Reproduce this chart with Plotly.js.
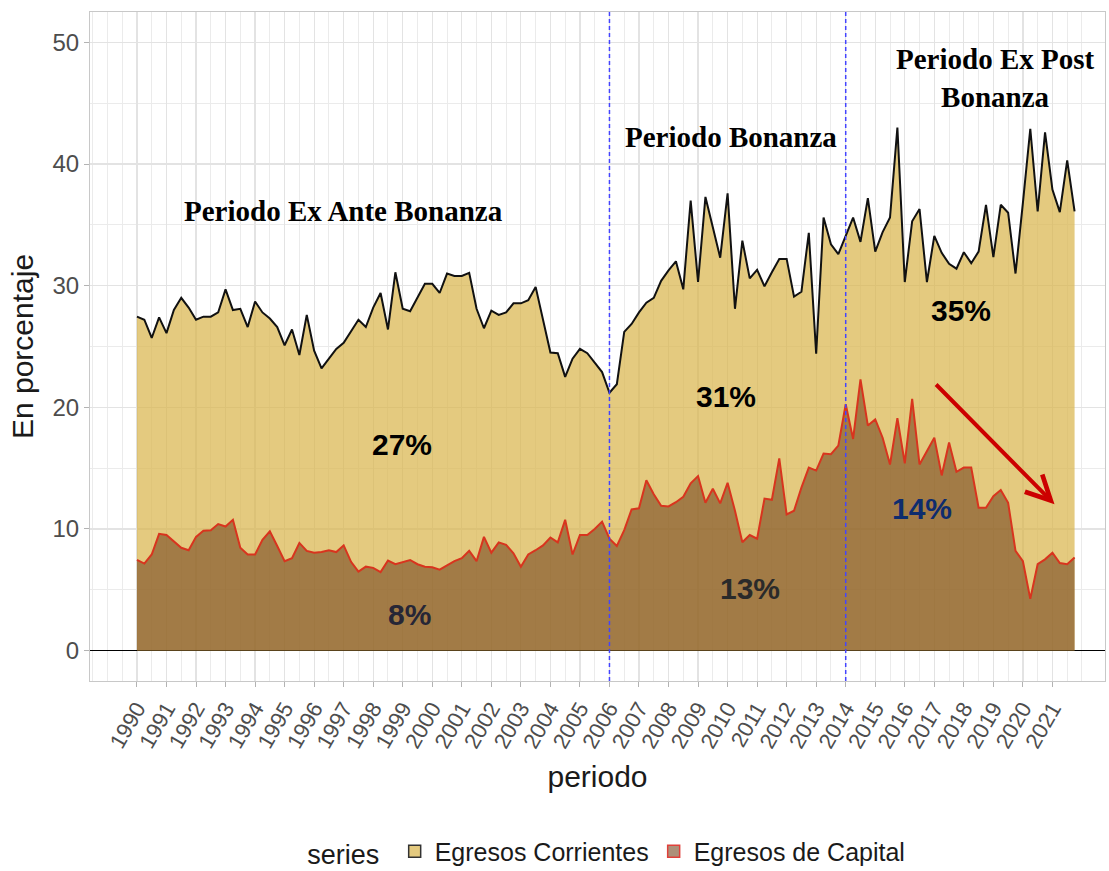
<!DOCTYPE html>
<html>
<head>
<meta charset="utf-8">
<script src="https://cdn.plot.ly/plotly-3.0.1.min.js"></script>
<style>
  html, body { margin: 0; padding: 0; background: #ffffff; overflow: hidden; }
  #chart { width: 1109px; height: 871px; }
</style>
</head>
<body>
<div id="chart"></div>
<script>
// ---- Data (quarterly, 1990Q1 - 2021Q4), in percent ----
const startYear = 1990;
const quartersPerYear = 4;

const yearTicks = [1990,1991,1992,1993,1994,1995,1996,1997,1998,1999,2000,2001,2002,2003,2004,2005,
                   2006,2007,2008,2009,2010,2011,2012,2013,2014,2015,2016,2017,2018,2019,2020,2021];

const egresosCorrientes = [
  27.45,27.2,25.7,27.4, 26.1,28.0,29.0,28.2, 27.2,27.45,27.45,27.8, 29.7,28.0,28.1,26.6,
  28.7,27.8,27.3,26.6, 25.1,26.4,24.3,27.6, 24.65,23.2,24.0,24.8, 25.3,26.2,27.2,26.6,
  28.2,29.4,26.4,31.1, 28.1,27.9,29.05,30.15, 30.15,29.4,31.0,30.8, 30.8,31.05,28.1,26.5,
  27.95,27.6,27.8,28.55, 28.55,28.8,29.9,27.3, 24.5,24.45,22.5,24.0, 24.8,24.45,23.7,22.9,
  21.2,21.9,26.2,26.85, 27.8,28.6,29.0,30.4, 31.25,32.0,29.7,37.0, 30.3,37.3,34.8,32.3,
  37.6,28.1,33.7,30.6, 31.3,29.95,31.1,32.2, 32.2,29.1,29.5,34.35, 24.4,35.6,33.4,32.6,
  34.1,35.6,33.6,37.2, 32.8,34.4,35.6,43.0, 30.3,35.3,36.3,30.3, 34.1,32.7,31.8,31.4,
  32.75,31.85,32.8,36.65, 32.35,36.65,36.0,31.0, 36.8,42.9,36.1,42.6, 37.9,36.05,40.3,36.1
];

const egresosCapital = [
  7.45,7.15,7.9,9.6, 9.5,9.0,8.45,8.25, 9.35,9.85,9.9,10.4, 10.2,10.75,8.45,7.9,
  7.9,9.1,9.8,8.6, 7.35,7.6,8.85,8.2, 8.05,8.1,8.25,8.1, 8.65,7.3,6.5,6.9,
  6.8,6.45,7.4,7.1, 7.3,7.45,7.1,6.9, 6.85,6.65,7.0,7.35, 7.6,8.2,7.35,9.35,
  8.05,8.9,8.7,8.0, 6.9,7.9,8.25,8.65, 9.3,8.9,10.75,7.9, 9.5,9.5,10.0,10.6,
  9.2,8.6,9.9,11.6, 11.7,14.0,12.85,11.9, 11.85,12.2,12.65,13.75, 14.35,12.15,13.3,12.1,
  13.8,11.5,8.9,9.5, 9.2,12.5,12.4,15.8, 11.2,11.5,13.4,15.05, 14.8,16.2,16.15,16.85,
  20.25,17.4,22.3,18.5, 19.0,17.5,15.3,19.1, 15.4,20.7,15.3,16.4, 17.5,14.4,17.1,14.7,
  15.05,15.05,11.75,11.75, 12.7,13.2,12.15,8.2, 7.35,4.25,7.1,7.5, 8.05,7.2,7.1,7.65
];

const seriesNames = ["Egresos Corrientes", "Egresos de Capital"];
const periodBreaks = [2006, 2014];
const periodLabels = ["Periodo Ex Ante Bonanza", "Periodo Bonanza", "Periodo Ex Post<br>Bonanza"];
const avgLabels = ["27%", "8%", "31%", "13%", "35%", "14%"];

// time index
const periodo = egresosCorrientes.map((_, i) => startYear + i / quartersPerYear);

const sans = "Liberation Sans, Arimo, Arial, sans-serif";
const serif = "Liberation Serif, Tinos, Times New Roman, serif";

const fillCorr = "rgba(218,182,78,0.72)";
const fillCap = "rgba(118,70,32,0.6)";
const lineCorr = "#111111";
const lineCap = "#D8341E";

const traces = [
  {
    x: periodo, y: egresosCorrientes, name: seriesNames[0], showlegend: false,
    type: "scatter", mode: "lines", fill: "tozeroy",
    fillcolor: fillCorr, line: { color: lineCorr, width: 2 }
  },
  {
    x: periodo, y: egresosCapital, name: seriesNames[1], showlegend: false,
    type: "scatter", mode: "lines", fill: "tozeroy",
    fillcolor: fillCap, line: { color: lineCap, width: 2 }
  },
  // legend keys (boxes as in the original)
  { x: [null], y: [null], type: "bar", name: seriesNames[0],
    marker: { color: fillCorr, line: { color: "#333333", width: 1.5 } } },
  { x: [null], y: [null], type: "bar", name: seriesNames[1],
    marker: { color: fillCap, line: { color: "#E0403A", width: 1.5 } } }
];

// minor vertical gridlines every half-year
const minorX = [];
for (let v = 1988.5; v <= 2022.01; v += 0.5) minorX.push(v);

const shapes = periodBreaks.map(b => ({
  type: "line", xref: "x", yref: "paper", x0: b, x1: b, y0: 0, y1: 1,
  line: { color: "#4444FF", width: 1.5, dash: "4px,3px" }
}));

const annotations = [
  { x: 1997.0, y: 36.1, text: "<b>" + periodLabels[0] + "</b>", font: { family: serif, size: 29, color: "#000" } },
  { x: 2010.1, y: 42.25, text: "<b>" + periodLabels[1] + "</b>", font: { family: serif, size: 29, color: "#000" } },
  { x: 2019.05, y: 47.1, text: "<b>" + periodLabels[2] + "</b>", font: { family: serif, size: 29, color: "#000" } },
  { x: 1998.96, y: 16.97, text: "<b>" + avgLabels[0] + "</b>", font: { family: sans, size: 30, color: "#000" } },
  { x: 1999.23, y: 2.97, text: "<b>" + avgLabels[1] + "</b>", font: { family: sans, size: 30, color: "#262636" } },
  { x: 2009.95, y: 20.9, text: "<b>" + avgLabels[2] + "</b>", font: { family: sans, size: 30, color: "#000" } },
  { x: 2010.76, y: 5.1, text: "<b>" + avgLabels[3] + "</b>", font: { family: sans, size: 30, color: "#2a2a2a" } },
  { x: 2017.92, y: 28.0, text: "<b>" + avgLabels[4] + "</b>", font: { family: sans, size: 30, color: "#000" } },
  { x: 2016.6, y: 11.7, text: "<b>" + avgLabels[5] + "</b>", font: { family: sans, size: 30, color: "#0E2C6E" } },
  { x: 2021.07, y: 12.03, ax: 2017.01, ay: 22.0, axref: "x", ayref: "y", text: "",
    showarrow: true, arrowcolor: "#CC0000", arrowwidth: 4, arrowhead: 5, arrowsize: 1.2 }
].map(a => Object.assign({ xref: "x", yref: "y", showarrow: false }, a));

const layout = {
  width: 1109, height: 871,
  margin: { l: 90, r: 4, t: 12, b: 190, autoexpand: false },
  paper_bgcolor: "#ffffff", plot_bgcolor: "#ffffff",
  font: { family: sans, color: "#4D4D4D" },
  showlegend: true,
  barmode: "overlay",
  legend: {
    orientation: "h", x: 0.51, xanchor: "center", y: -0.255, yanchor: "middle",
    title: { text: "series ", font: { size: 27, color: "#1a1a1a" } },
    font: { size: 25, color: "#1a1a1a" }, traceorder: "normal",
    itemwidth: 30
  },
  xaxis: {
    range: [1988.41, 2022.78], automargin: false,
    tickmode: "array", tickvals: yearTicks, ticktext: yearTicks.map(String),
    tickangle: -60, tickfont: { size: 22, color: "#4D4D4D" },
    ticks: "outside", ticklen: 5, tickcolor: "#B3B3B3", tickwidth: 1,
    showgrid: true, gridcolor: "#E3E3E3", gridwidth: 1.2,
    minor: { tickmode: "array", tickvals: minorX, showgrid: true, gridcolor: "#EBEBEB", gridwidth: 1, ticks: "" },
    showline: true, linecolor: "#C8C8C8", linewidth: 1, mirror: true,
    zeroline: false,
    title: { text: "periodo", font: { size: 30, color: "#1a1a1a" }, standoff: 14 }
  },
  yaxis: {
    range: [-2.5, 52.5], automargin: false,
    tickmode: "linear", tick0: 0, dtick: 10,
    tickfont: { size: 24, color: "#4D4D4D" },
    ticks: "outside", ticklen: 5, tickcolor: "#B3B3B3", tickwidth: 1,
    showgrid: true, gridcolor: "#E3E3E3", gridwidth: 1.2,
    minor: { dtick: 5, showgrid: true, gridcolor: "#EBEBEB", gridwidth: 1, ticks: "" },
    showline: true, linecolor: "#C8C8C8", linewidth: 1, mirror: true,
    zeroline: true, zerolinecolor: "#000000", zerolinewidth: 1,
    title: { text: "En porcentaje", font: { size: 30, color: "#1a1a1a" }, standoff: 9 }
  },
  shapes: shapes,
  annotations: annotations
};

Plotly.newPlot("chart", traces, layout, { displayModeBar: false, staticPlot: true });
</script>
</body>
</html>
